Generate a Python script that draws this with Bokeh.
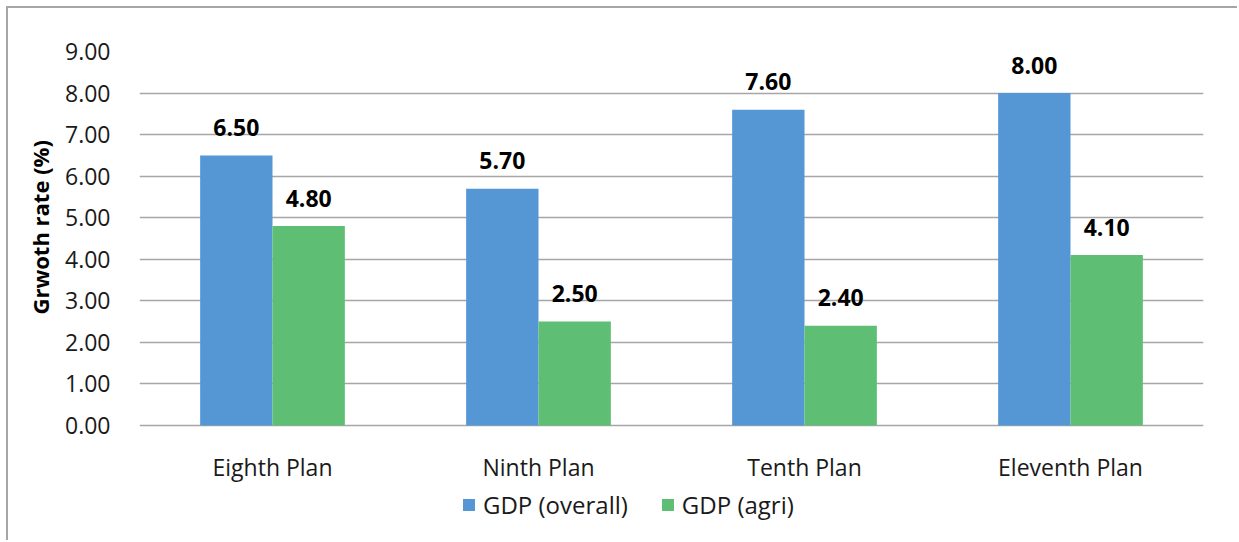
from bokeh.plotting import figure
from bokeh.models import (ColumnDataSource, FactorRange, Range1d, NumeralTickFormatter,
                          Legend, LegendItem, FixedTicker, Title)
from bokeh.transform import dodge
from bokeh.core.properties import value
from bokeh.embed import file_html
from bokeh.resources import INLINE

plans = ["Eighth Plan", "Ninth Plan", "Tenth Plan", "Eleventh Plan"]
gdp_overall = [6.50, 5.70, 7.60, 8.00]
gdp_agri = [4.80, 2.50, 2.40, 4.10]
y_ticks = [0, 1, 2, 3, 4, 5, 6, 7, 8, 9]

BLUE = "#5597d5"
GREEN = "#5ebf74"
FONT = "Open Sans"
INK = "#1a1a1a"

src = ColumnDataSource(dict(
    plan=plans,
    overall=gdp_overall,
    agri=gdp_agri,
    base=[0.0] * len(plans),
    overall_lbl=[f"{v:.2f}" for v in gdp_overall],
    agri_lbl=[f"{v:.2f}" for v in gdp_agri],
))

# The frame runs down to the bottom edge so the legend can sit under the
# category names; the value scale keeps 0..9 on the gridded part.
FIG_W, FIG_H = 1231, 534
TOP, LEFT, RIGHT = 43, 131, 36
GRID_PX = 374                      # pixels from 0 to 9
frame_h = FIG_H - TOP
y_start = -(frame_h - GRID_PX) / (GRID_PX / 9.0)

p = figure(
    width=FIG_W, height=FIG_H,
    x_range=FactorRange(*plans, range_padding=0),
    y_range=Range1d(y_start, 9),
    output_backend="svg", toolbar_location=None,
    min_border_left=LEFT, min_border_right=RIGHT,
    min_border_top=TOP, min_border_bottom=0,
)
p.styles = {"margin-left": "6px", "margin-top": "6px",
            "border-left": "2px solid #a6a6a6", "border-top": "2px solid #a6a6a6"}
p.outline_line_color = None
p.xaxis.visible = False

r1 = p.vbar(x=dodge("plan", -0.136, range=p.x_range), top="overall", width=0.272,
            source=src, fill_color=BLUE, line_color=None)
r2 = p.vbar(x=dodge("plan", 0.136, range=p.x_range), top="agri", width=0.272,
            source=src, fill_color=GREEN, line_color=None)

# value labels above each bar
for col, lbl, off in (("overall", "overall_lbl", -0.136), ("agri", "agri_lbl", 0.136)):
    p.text(x=dodge("plan", off, range=p.x_range), y=col, text=lbl, source=src,
           text_align="center", text_baseline="alphabetic", y_offset=-28,
           text_font=value(FONT), text_font_style="bold", text_font_size="23px",
           text_color="#000000")

# category names under each group
p.text(x="plan", y="base", text="plan", source=src,
       text_align="center", text_baseline="alphabetic", y_offset=41,
       text_font=value(FONT), text_font_size="23px", text_color=INK)

# value axis
p.yaxis.ticker = FixedTicker(ticks=y_ticks)
p.yaxis.formatter = NumeralTickFormatter(format="0.00")
p.yaxis.axis_line_color = None
p.yaxis.major_tick_line_color = None
p.yaxis.minor_tick_line_color = None
p.yaxis.major_label_text_font = FONT
p.yaxis.major_label_text_font_size = "23px"
p.yaxis.major_label_text_color = INK
p.yaxis.major_label_standoff = 23

p.add_layout(Title(text="Grwoth rate (%)", align="left", offset=228, standoff=16,
                   text_font=FONT, text_font_style="bold", text_font_size="22px",
                   text_color="#000000"), "left")

p.xgrid.grid_line_color = None
p.ygrid.grid_line_color = "#a6a6a6"
p.ygrid.grid_line_width = 1.5

legend = Legend(
    items=[LegendItem(label="GDP (overall)", renderers=[r1]),
           LegendItem(label="GDP (agri)", renderers=[r2])],
    location=(322, 21), orientation="horizontal",
    glyph_width=15, glyph_height=15, label_standoff=7, spacing=32,
    padding=0, margin=0, border_line_color=None, background_fill_alpha=0,
    label_text_font=FONT, label_text_font_size="24px", label_text_color=INK,
)
p.add_layout(legend, "center")

open("out.html", "w").write(file_html(p, INLINE))
